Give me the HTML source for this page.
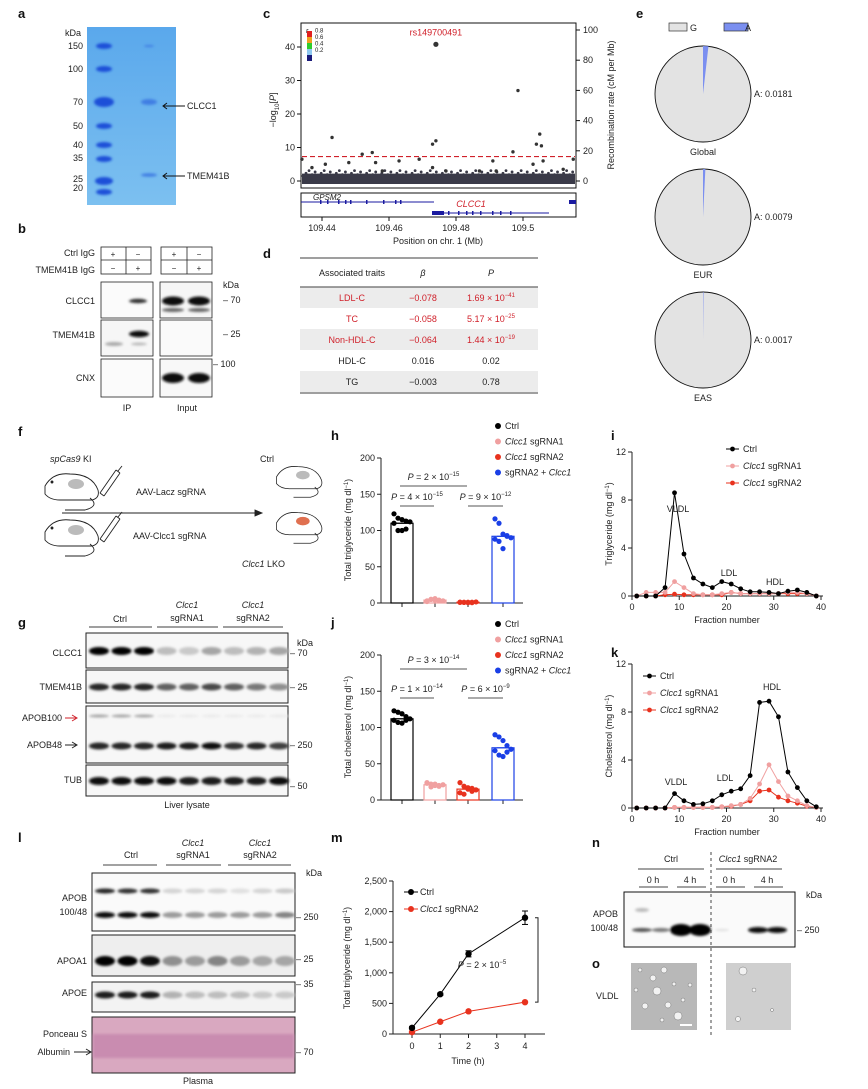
<!DOCTYPE html>
<html><head><meta charset="utf-8">
<style>
html,body{margin:0;padding:0;background:#fff;}
svg{display:block;font-family:"Liberation Sans",Arial,sans-serif;}
.t{font-size:9px;fill:#222;}
.s{font-size:8px;fill:#222;}
.L{font-size:13px;font-weight:bold;fill:#111;}
</style></head>
<body>
<svg id="fig" width="868" height="1089" viewBox="0 0 868 1089" xmlns="http://www.w3.org/2000/svg">
<defs>
<filter id="bl" x="-20%" y="-100%" width="140%" height="300%"><feGaussianBlur stdDeviation="1.2"/></filter>
<linearGradient id="gelg" x1="0" x2="0" y1="0" y2="1"><stop offset="0" stop-color="#5aa8ec"/><stop offset="1" stop-color="#7cc0f0"/></linearGradient>
</defs>

<!-- panel letters -->
<g>
<text class="L" x="18" y="18">a</text><text class="L" x="263" y="18">c</text><text class="L" x="636" y="18">e</text>
<text class="L" x="18" y="233">b</text><text class="L" x="263" y="258">d</text>
<text class="L" x="18" y="436">f</text><text class="L" x="331" y="440">h</text><text class="L" x="611" y="440">i</text>
<text class="L" x="18" y="627">g</text><text class="L" x="331" y="627">j</text><text class="L" x="611" y="657">k</text>
<text class="L" x="18" y="842">l</text><text class="L" x="331" y="842">m</text><text class="L" x="592" y="847">n</text><text class="L" x="592" y="968">o</text>
</g>

<!-- panel a gel -->
<g>
<rect x="87" y="27" width="89" height="178" fill="url(#gelg)"/>
<g fill="#1a4fd8" filter="url(#bl)">
<ellipse cx="104" cy="46" rx="8" ry="3"/><ellipse cx="104" cy="69" rx="8" ry="3"/><ellipse cx="104" cy="102" rx="10" ry="5"/>
<ellipse cx="104" cy="126" rx="8" ry="3"/><ellipse cx="104" cy="145" rx="8" ry="3"/><ellipse cx="104" cy="159" rx="8" ry="3"/>
<ellipse cx="104" cy="181" rx="9" ry="4"/><ellipse cx="104" cy="192" rx="8" ry="3"/>
</g>
<g fill="#3f7ee3" filter="url(#bl)"><ellipse cx="149" cy="102" rx="8" ry="3"/><ellipse cx="149" cy="175" rx="8" ry="1.8"/><ellipse cx="149" cy="46" rx="5" ry="1"/></g>
<text class="t" x="65" y="36">kDa</text>
<g class="t" text-anchor="end"><text x="83" y="49">150</text><text x="83" y="72">100</text><text x="83" y="105">70</text><text x="83" y="129">50</text><text x="83" y="148">40</text><text x="83" y="161">35</text><text x="83" y="182">25</text><text x="83" y="191">20</text></g>
<path d="M185,106 H163 M167,103 L163,106 L167,109 M185,176 H163 M167,173 L163,176 L167,179" stroke="#111" fill="none"/>
<text class="t" x="187" y="109">CLCC1</text><text class="t" x="187" y="179">TMEM41B</text>
</g>

<!-- panel b -->
<g>
<text class="t" x="95" y="256" text-anchor="end">Ctrl IgG</text><text class="t" x="95" y="273" text-anchor="end">TMEM41B IgG</text>
<g fill="none" stroke="#222" stroke-width="0.8">
<rect x="101" y="247" width="50" height="27"/><line x1="101" y1="260" x2="151" y2="260"/><line x1="126" y1="247" x2="126" y2="274"/>
<rect x="161" y="247" width="51" height="27"/><line x1="161" y1="260" x2="212" y2="260"/><line x1="187" y1="247" x2="187" y2="274"/>
<rect x="101" y="282" width="52" height="36" fill="#fbfbfb"/><rect x="160" y="282" width="52" height="36" fill="#f6f6f6"/>
<rect x="101" y="320" width="52" height="36" fill="#f6f6f6"/><rect x="160" y="320" width="52" height="36" fill="#fafafa"/>
<rect x="101" y="359" width="52" height="38" fill="#fbfbfb"/><rect x="160" y="359" width="52" height="38" fill="#f8f8f8"/>
</g>
<g class="s" text-anchor="middle"><text x="113" y="257">+</text><text x="138" y="257">−</text><text x="113" y="271">−</text><text x="138" y="271">+</text>
<text x="174" y="257">+</text><text x="199" y="257">−</text><text x="174" y="271">−</text><text x="199" y="271">+</text></g>
<g filter="url(#bl)">
<ellipse cx="138" cy="301" rx="9" ry="2.2" fill="#333"/><ellipse cx="173" cy="301" rx="11" ry="4.5" fill="#111"/><ellipse cx="199" cy="301" rx="11" ry="4.5" fill="#111"/>
<ellipse cx="173" cy="310" rx="11" ry="2" fill="#666"/><ellipse cx="199" cy="310" rx="11" ry="2" fill="#666"/>
<ellipse cx="139" cy="334" rx="10" ry="3.2" fill="#111"/><ellipse cx="114" cy="344" rx="9" ry="2" fill="#aaa"/><ellipse cx="139" cy="344" rx="8" ry="1.5" fill="#bbb"/>
<ellipse cx="173" cy="378" rx="11" ry="5" fill="#111"/><ellipse cx="199" cy="378" rx="11" ry="5" fill="#111"/>
</g>
<text class="t" x="95" y="304" text-anchor="end">CLCC1</text><text class="t" x="95" y="338" text-anchor="end">TMEM41B</text><text class="t" x="95" y="381" text-anchor="end">CNX</text>
<text class="t" x="223" y="288">kDa</text><text class="t" x="223" y="303">– 70</text><text class="t" x="223" y="337">– 25</text><text class="t" x="213" y="367">– 100</text>
<text class="t" x="127" y="411" text-anchor="middle">IP</text><text class="t" x="187" y="411" text-anchor="middle">Input</text>
</g>

<!-- panel c (static frame; points by JS) -->
<g id="pc"></g>

<!-- panel d table -->
<g>
<rect x="300" y="287" width="238" height="21" fill="#ececec"/><rect x="300" y="329" width="238" height="21" fill="#ececec"/><rect x="300" y="371" width="238" height="21" fill="#ececec"/>
<line x1="300" y1="258" x2="538" y2="258" stroke="#666" stroke-width="1.2"/><line x1="300" y1="287" x2="538" y2="287" stroke="#666" stroke-width="1.2"/><line x1="300" y1="393" x2="538" y2="393" stroke="#666" stroke-width="1.2"/>
<g class="t" text-anchor="middle">
<text x="352" y="276">Associated traits</text><text x="423" y="276" font-style="italic">β</text><text x="491" y="276" font-style="italic">P</text>
<g fill="#d0202a"><text x="352" y="301" fill="#d0202a">LDL-C</text><text x="423" y="301" fill="#d0202a">−0.078</text><text x="491" y="301" fill="#d0202a">1.69 × 10<tspan dy="-4" font-size="6">−41</tspan></text>
<text x="352" y="322" fill="#d0202a">TC</text><text x="423" y="322" fill="#d0202a">−0.058</text><text x="491" y="322" fill="#d0202a">5.17 × 10<tspan dy="-4" font-size="6">−25</tspan></text>
<text x="352" y="343" fill="#d0202a">Non-HDL-C</text><text x="423" y="343" fill="#d0202a">−0.064</text><text x="491" y="343" fill="#d0202a">1.44 × 10<tspan dy="-4" font-size="6">−19</tspan></text></g>
<text x="352" y="364">HDL-C</text><text x="423" y="364">0.016</text><text x="491" y="364">0.02</text>
<text x="352" y="385">TG</text><text x="423" y="385">−0.003</text><text x="491" y="385">0.78</text>
</g></g>

<!-- panel e pies -->
<g id="pe">
<rect x="669" y="23" width="18" height="8" fill="#e3e3e3" stroke="#333" stroke-width="0.7"/><text class="t" x="690" y="31">G</text>
<rect x="724" y="23" width="24" height="8" fill="#7b8ff0" stroke="#333" stroke-width="0.7"/><text class="t" x="745" y="31">A</text>
</g>

<!-- panel f schematic -->
<g fill="none" stroke="#222" stroke-width="0.9">
<g id="mouse1"><path d="M45,486 q8,-14 25,-12 q22,0 28,16 q2,8 -6,10 h-32 q-10,0 -15,-6 z" fill="#fff"/><path d="M90,498 q10,8 -5,12 h-20" /><ellipse cx="76" cy="484" rx="8" ry="5" fill="#bbb" stroke="none"/><circle cx="52" cy="482" r="1" fill="#222"/></g>
<use href="#mouse1" transform="translate(0,46)"/>
<g transform="translate(200,0) scale(0.85) translate(45,75)"><path d="M45,486 q8,-14 25,-12 q22,0 28,16 q2,8 -6,10 h-32 q-10,0 -15,-6 z" fill="#fff"/><path d="M90,498 q10,8 -5,12 h-20"/><ellipse cx="76" cy="484" rx="8" ry="5" fill="#bbb" stroke="none"/></g>
<g transform="translate(200,46) scale(0.85) translate(45,75)"><path d="M45,486 q8,-14 25,-12 q22,0 28,16 q2,8 -6,10 h-32 q-10,0 -15,-6 z" fill="#fff"/><path d="M90,498 q10,8 -5,12 h-20"/><ellipse cx="76" cy="484" rx="8" ry="5" fill="#e07050" stroke="none"/></g>
<path d="M100,493 L116,470 M104,496 L120,473 M100,493 L104,496 M116,470 L120,473 M118,471 L122,466"/>
<path d="M100,539 L116,516 M104,542 L120,519 M100,539 L104,542 M116,516 L120,519 M118,517 L122,512"/>
<line x1="62" y1="513" x2="260" y2="513"/><path d="M255,510 L262,513 L255,516 z" fill="#222"/>
<g stroke="none" fill="#222" font-size="9px"><text x="50" y="462" font-style="italic">spCas9<tspan font-style="normal"> KI</tspan></text><text x="260" y="462">Ctrl</text>
<text x="136" y="495">AAV-Lacz sgRNA</text><text x="133" y="539">AAV-Clcc1 sgRNA</text><text x="242" y="567" font-style="italic">Clcc1<tspan font-style="normal"> LKO</tspan></text></g>
</g>

<!-- panel g blot -->
<g id="pg">
<g class="t" text-anchor="middle"><text x="120" y="622">Ctrl</text><text x="187" y="608" font-style="italic">Clcc1</text><text x="187" y="621">sgRNA1</text><text x="253" y="608" font-style="italic">Clcc1</text><text x="253" y="621">sgRNA2</text></g>
<path d="M89,627 H152 M157,627 H218 M223,627 H283" stroke="#666" stroke-width="1.2"/>
<g fill="#f7f7f7" stroke="#222" stroke-width="1"><rect x="86" y="633" width="202" height="35"/><rect x="86" y="670" width="202" height="33"/><rect x="86" y="706" width="202" height="57"/><rect x="86" y="765" width="202" height="31"/></g>
<g class="t" text-anchor="end"><text x="82" y="656">CLCC1</text><text x="82" y="690">TMEM41B</text><text x="62" y="721">APOB100</text><text x="62" y="748">APOB48</text><text x="82" y="783">TUB</text></g>
<path d="M65,718 H76 M72,715 L77,718 L72,721" stroke="#d0202a" fill="none"/><path d="M65,745 H76 M72,742 L77,745 L72,748" stroke="#222" fill="none"/>
<g class="t"><text x="297" y="646">kDa</text><text x="290" y="656">– 70</text><text x="290" y="690">– 25</text><text x="290" y="748">– 250</text><text x="290" y="789">– 50</text></g>
<text class="t" x="187" y="808" text-anchor="middle">Liver lysate</text>
</g>

<!-- panel l blot -->
<g id="pl">
<g class="t" text-anchor="middle"><text x="131" y="858">Ctrl</text><text x="193" y="846" font-style="italic">Clcc1</text><text x="193" y="858">sgRNA1</text><text x="260" y="846" font-style="italic">Clcc1</text><text x="260" y="858">sgRNA2</text></g>
<path d="M103,865 H157 M166,865 H221 M228,865 H291" stroke="#444" stroke-width="1"/>
<g stroke="#222" stroke-width="1"><rect x="92" y="873" width="203" height="58" fill="#fafafa"/><rect x="92" y="935" width="203" height="41" fill="#eeeeee"/><rect x="92" y="982" width="203" height="30" fill="#f3f3f3"/><rect x="92" y="1017" width="203" height="56" fill="#d9a8c0"/></g>
<rect x="93" y="1034" width="201" height="24" fill="#c98cb0" filter="url(#bl)"/>
<g class="t" text-anchor="end"><text x="87" y="901">APOB</text><text x="87" y="915">100/48</text><text x="87" y="964">APOA1</text><text x="87" y="996">APOE</text><text x="87" y="1037">Ponceau S</text><text x="70" y="1055">Albumin</text></g>
<path d="M74,1052 H90 M86,1049 L91,1052 L86,1055" stroke="#222" fill="none"/>
<g class="t"><text x="306" y="876">kDa</text><text x="296" y="920">– 250</text><text x="296" y="962">– 25</text><text x="296" y="987">– 35</text><text x="296" y="1055">– 70</text></g>
<text class="t" x="198" y="1084" text-anchor="middle">Plasma</text>
</g>

<!-- panel n / o -->
<g>
<g class="t" text-anchor="middle"><text x="671" y="862">Ctrl</text><text x="748" y="862"><tspan font-style="italic">Clcc1</tspan> sgRNA2</text>
<text x="653" y="883">0 h</text><text x="690" y="883">4 h</text><text x="729" y="883">0 h</text><text x="767" y="883">4 h</text></g>
<path d="M638,869 H704 M716,869 H782 M639,887 H668 M677,887 H706 M716,887 H745 M754,887 H783" stroke="#444"/>
<rect x="624" y="892" width="171" height="55" fill="#fafafa" stroke="#111" stroke-width="1"/>
<g filter="url(#bl)"><ellipse cx="642" cy="930" rx="10" ry="2" fill="#555"/><ellipse cx="661" cy="930" rx="9" ry="2" fill="#777"/><ellipse cx="642" cy="910" rx="7" ry="2" fill="#bbb"/>
<ellipse cx="681" cy="930" rx="11" ry="6" fill="#000"/><ellipse cx="700" cy="930" rx="11" ry="6" fill="#000"/>
<ellipse cx="758" cy="930" rx="10" ry="3" fill="#111"/><ellipse cx="777" cy="930" rx="10" ry="3" fill="#111"/><ellipse cx="722" cy="930" rx="7" ry="1" fill="#ddd"/></g>
<text class="t" x="618" y="917" text-anchor="end">APOB</text><text class="t" x="618" y="931" text-anchor="end">100/48</text>
<text class="t" x="806" y="898">kDa</text><text class="t" x="797" y="933">– 250</text>
<line x1="711" y1="852" x2="711" y2="1036" stroke="#444" stroke-dasharray="3,3"/>
</g>
<g>
<rect x="631" y="963" width="66" height="67" fill="#b8b8b8"/><rect x="726" y="963" width="65" height="67" fill="#cfcfcf"/>
<g fill="#f2f2f2" stroke="#777" stroke-width="0.5"><circle cx="640" cy="970" r="2"/><circle cx="653" cy="978" r="3"/><circle cx="664" cy="970" r="3"/><circle cx="657" cy="991" r="4"/><circle cx="674" cy="984" r="2"/><circle cx="645" cy="1006" r="3"/><circle cx="668" cy="1005" r="3"/><circle cx="678" cy="1016" r="4"/><circle cx="690" cy="985" r="2"/><circle cx="636" cy="990" r="2"/><circle cx="683" cy="1000" r="2"/><circle cx="662" cy="1020" r="2"/>
<circle cx="743" cy="971" r="4"/><circle cx="738" cy="1019" r="2.5"/><circle cx="754" cy="990" r="2"/><circle cx="772" cy="1010" r="1.5"/></g>
<rect x="680" y="1024" width="12" height="2" fill="#fff"/>
<text class="t" x="596" y="999">VLDL</text>
</g>

<g id="ph"></g>
<g id="pj"></g>
<g id="pi"></g>
<g id="pk"></g>
<g id="pm"></g>
</svg>

<script>
// ===== data =====
const cPosMb=[109.434,109.437,109.441,109.443,109.448,109.452,109.456,109.455,109.458,109.463,109.469,109.473,109.473,109.474,109.474,109.477,109.487,109.491,109.492,109.497,109.4985,109.503,109.504,109.505,109.5055,109.506,109.512,109.515];
const cLogP=[6.5,4,5,13,5.5,8,5.5,8.5,3,6,6.5,4,11,12,40.8,3,3,6,3,8.7,27,5,11,14,10.5,6,3.5,6.5];
const cYTicks=[0,10,20,30,40];
const cRTicks=[0,20,40,60,80,100];
const cXTicks=[109.44,109.46,109.48,109.5];
const cThreshold=7.3;

const pieGroups=["Global","EUR","EAS"];
const pieA=[0.0181,0.0079,0.0017];

const barCats=["Ctrl","Clcc1 sgRNA1","Clcc1 sgRNA2","sgRNA2 + Clcc1"];
const barColors=["#000","#f0a0a0","#e8321e","#1a3fe6"];
const hMeans=[110,4,1,92];
const hPoints=[[123,117,115,113,112,110,100,100,102],[3,5,6,4,3,2,5,4,3],[1,1,0.5,1,1.5,1,0.8,1,0.5],[116,110,95,92,90,88,85,75,93]];
const jMeans=[112,21,15,72];
const jPoints=[[123,121,119,115,112,110,107,106,110],[24,22,20,19,21,23,18,22,20],[24,19,15,12,14,10,8,17,16],[90,87,82,75,70,68,62,60,66]];
const barTicks=[0,50,100,150,200];

const fracX=[1,3,5,7,9,11,13,15,17,19,21,23,25,27,29,31,33,35,37,39];
const iCtrl=[0,0,0,0.7,8.6,3.5,1.5,1.0,0.7,1.2,1.0,0.6,0.35,0.35,0.3,0.2,0.4,0.5,0.3,0];
const iSg1=[0,0.3,0.3,0.3,1.2,0.7,0.2,0.1,0.1,0.2,0.3,0.2,0.2,0.2,0.2,0.2,0.3,0.3,0.2,0];
const iSg2=[0,0,0,0.1,0.15,0.1,0.1,0.1,0.1,0.1,0.3,0.2,0.2,0.2,0.2,0.2,0.2,0.2,0.2,0];
const kCtrl=[0,0,0,0,1.2,0.6,0.3,0.35,0.6,1.1,1.4,1.6,2.7,8.8,8.9,7.6,3.0,1.7,0.6,0.1];
const kSg1=[0,0,0,0,0.05,0.05,0.05,0.05,0.05,0.1,0.2,0.3,0.8,2.0,3.6,2.2,1.0,0.6,0.2,0.05];
const kSg2=[0,0,0,0,0.05,0.05,0.05,0.05,0.05,0.1,0.15,0.3,0.6,1.4,1.5,0.9,0.6,0.4,0.15,0.05];
const fplcYTicks=[0,4,8,12];
const fplcXTicks=[0,10,20,30,40];

const mTime=[0,1,2,4];
const mCtrl=[100,650,1310,1900];
const mCtrlErr=[20,20,50,110];
const mSg2=[30,200,370,520];
const mYTicks=[0,500,1000,1500,2000,2500];
const mYLabels=["0","500","1,000","1,500","2,000","2,500"];
const mXTicks=[0,1,2,3,4];

// ===== helpers =====
const NS="http://www.w3.org/2000/svg";
function mk(tag,parent,attrs){const e=document.createElementNS(NS,tag);for(const k in attrs)e.setAttribute(k,attrs[k]);parent.appendChild(e);return e;}
function txt(parent,x,y,s,extra){const e=mk("text",parent,Object.assign({x:x,y:y,"font-size":"9px",fill:"#222"},extra||{}));e.textContent=s;return e;}
function lin(d0,d1,r0,r1){return v=>r0+(v-d0)*(r1-r0)/(d1-d0);}

// ===== panel c =====
(function(){
const g=document.getElementById("pc");
const x=lin(109.44,109.5,322,523), y=lin(0,40,181,47), yr=lin(0,100,181,30);
const fr=mk("rect",g,{x:301,y:23,width:275,height:165,fill:"none",stroke:"#111","stroke-width":1});

cYTicks.forEach(t=>{mk("line",g,{x1:297,x2:301,y1:y(t),y2:y(t),stroke:"#111"});txt(g,295,y(t)+3,t,{"text-anchor":"end"});});
cRTicks.forEach(t=>{mk("line",g,{x1:576,x2:580,y1:yr(t),y2:yr(t),stroke:"#111"});txt(g,583,yr(t)+3,t);});
const rl=txt(g,0,0,"Recombination rate (cM per Mb)",{transform:"translate(614,105) rotate(-90)","text-anchor":"middle"});

const yl=txt(g,0,0,"−log",{transform:"translate(276,110) rotate(-90)","text-anchor":"middle"});yl.innerHTML="−log<tspan font-size='6' dy='3'>10</tspan><tspan dy='-3'>[</tspan><tspan font-style='italic'>P</tspan>]";

mk("rect",g,{x:302,y:y(2.2),width:273,height:y(0)-y(2.2)+3,fill:"#3a3a48"});
for(let i=0;i<90;i++){const xx=303+i*3.03;mk("circle",g,{cx:xx,cy:y(1.5+((i*7)%5)*0.4),r:1.4,fill:"#3a3a48"});}
mk("line",g,{x1:302,x2:575,y1:y(cThreshold),y2:y(cThreshold),stroke:"#d0202a","stroke-dasharray":"5,3","stroke-width":1.2});
cPosMb.forEach((p,i)=>{const c=mk("circle",g,{cx:x(p),cy:y(cLogP[i]),r:cLogP[i]>40?2.6:1.7,fill:"#333"});
});
txt(g,x(109.474),y(40.8)-9,"rs149700491",{fill:"#d0202a","text-anchor":"middle","font-size":"9px"});
const cols=["#1a1a7a","#8ec8f0","#2ecc2e","#f0a020","#e02020"];
cols.forEach((c,i)=>mk("rect",g,{x:307,y:61-i*6-6,width:5,height:6,fill:c}));
txt(g,306,33,"r",{"font-style":"italic","font-size":"7px"});
["0.2","0.4","0.6","0.8"].forEach((s,i)=>txt(g,315,52-i*6.5,s,{"font-size":"6px"}));
mk("rect",g,{x:301,y:193,width:275,height:24,fill:"none",stroke:"#111"});
mk("line",g,{x1:301,x2:434,y1:202,y2:202,stroke:"#1a1aa0"});
mk("line",g,{x1:432,x2:549,y1:213,y2:213,stroke:"#1a1aa0"});
mk("rect",g,{x:432,y:211,width:12,height:4,fill:"#1a1aa0"});mk("rect",g,{x:569,y:200,width:7,height:4,fill:"#1a1aa0"});
[320,327,338,345,350,366,383,395,400,432,448,458,466,472,480,492,500,510].forEach((xx,i)=>mk("rect",g,{x:xx,y:i<9?200:211,width:1.5,height:4,fill:"#1a1aa0"}));
txt(g,313,200,"GPSM2",{"font-style":"italic","font-size":"8px"});
txt(g,471,207,"CLCC1",{"font-style":"italic",fill:"#d0202a","font-size":"9px","text-anchor":"middle"});
cXTicks.forEach(t=>{mk("line",g,{x1:x(t),x2:x(t),y1:217,y2:221,stroke:"#111"});txt(g,x(t),231,t,{"text-anchor":"middle"});});
txt(g,438,244,"Position on chr. 1 (Mb)",{"text-anchor":"middle"});
})();

// ===== panel e =====
(function(){
const g=document.getElementById("pe");
pieGroups.forEach((name,i)=>{
  const cx=703,cy=94+i*123,r=48;
  const c=mk("circle",g,{cx:cx,cy:cy,r:r,fill:"#e3e3e3",stroke:"#111","stroke-width":0.9});
  
  const a=pieA[i]*2*Math.PI;
  const p=mk("path",g,{d:`M${cx},${cy} L${cx},${cy-r} A${r},${r} 0 0 1 ${cx+r*Math.sin(a)},${cy-r*Math.cos(a)} Z`,fill:"#7b8ff0"});
  
  txt(g,cx+r+3,cy+3,"A: "+pieA[i].toFixed(4));
  txt(g,cx,cy+r+13,name,{"text-anchor":"middle"});
});
})();

// ===== bar panels =====
function barPanel(id,top,means,pts,ytitle,legY,pAnn){
const g=document.getElementById(id);
const y=lin(0,200,top+145,top), xs=[402,435,468,503];
mk("line",g,{x1:381,x2:381,y1:top,y2:top+145,stroke:"#222"});
mk("line",g,{x1:381,x2:523,y1:top+145,y2:top+145,stroke:"#222"});
barTicks.forEach(t=>{mk("line",g,{x1:377,x2:381,y1:y(t),y2:y(t),stroke:"#222"});txt(g,375,y(t)+3,t,{"text-anchor":"end"});});
xs.forEach(x=>mk("line",g,{x1:x,x2:x,y1:top+145,y2:top+149,stroke:"#222"}));
const t=txt(g,0,0,"",{transform:`translate(351,${top+72}) rotate(-90)`,"text-anchor":"middle"});t.innerHTML=ytitle+" (mg dl<tspan dy='-3' font-size='6'>−1</tspan><tspan dy='3'>)</tspan>";

means.forEach((m,i)=>{
 const b=mk("rect",g,{x:xs[i]-11,y:y(m),width:22,height:y(0)-y(m),fill:"none",stroke:barColors[i],"stroke-width":1.2});
 
 pts[i].forEach((v,k)=>{const c=mk("circle",g,{cx:xs[i]-8+(k%5)*4,cy:y(v),r:2.6,fill:barColors[i]});
  });
 mk("line",g,{x1:xs[i]-6,x2:xs[i]+6,y1:y(m),y2:y(m),stroke:barColors[i]});
});
barCats.forEach((c,i)=>{mk("circle",g,{cx:498,cy:legY+i*15.5-3,r:3,fill:barColors[i]});
 const l=txt(g,505,legY+i*15.5,"");
 l.innerHTML=c.replace("Clcc1","<tspan font-style='italic'>Clcc1</tspan>");
 });
pAnn.forEach(a=>{mk("line",g,{x1:a[0],x2:a[1],y1:a[2],y2:a[2],stroke:"#555"});
 const p=txt(g,(a[0]+a[1])/2,a[2]-6,"",{"text-anchor":"middle"});p.innerHTML="<tspan font-style='italic'>P</tspan> = "+a[3]+" × 10<tspan dy='-4' font-size='6'>"+a[4]+"</tspan>";});
}
barPanel("ph",458,hMeans,hPoints,"Total triglyceride",429,[[400,467,486,"2","−15"],[400,434,506,"4","−15"],[468,503,506,"9","−12"]]);
barPanel("pj",655,jMeans,jPoints,"Total cholesterol",627,[[400,467,669,"3","−14"],[400,434,698,"1","−14"],[468,503,698,"6","−9"]]);

// ===== FPLC panels =====
function fplc(id,top,s0,s1,s2,title,legX,legY,ann){
const g=document.getElementById(id);
const y=lin(0,12,top+144,top), x=lin(0,40,632,821);
mk("line",g,{x1:632,x2:632,y1:top,y2:top+144,stroke:"#222"});
mk("line",g,{x1:632,x2:823,y1:top+144,y2:top+144,stroke:"#222"});
fplcYTicks.forEach(t=>{mk("line",g,{x1:628,x2:632,y1:y(t),y2:y(t),stroke:"#222"});txt(g,626,y(t)+3,t,{"text-anchor":"end"});});
fplcXTicks.forEach(t=>{mk("line",g,{x1:x(t),x2:x(t),y1:top+144,y2:top+148,stroke:"#222"});txt(g,x(t),top+158,t,{"text-anchor":"middle"});});
txt(g,727,top+171,"Fraction number",{"text-anchor":"middle"});
const t=txt(g,0,0,"",{transform:`translate(612,${top+72}) rotate(-90)`,"text-anchor":"middle"});t.innerHTML=title+" (mg dl<tspan dy='-3' font-size='6'>−1</tspan><tspan dy='3'>)</tspan>";
const ser=[[s2,"#e8321e","Clcc1 sgRNA2"],[s1,"#f0a0a0","Clcc1 sgRNA1"],[s0,"#000","Ctrl"]];
ser.forEach(([d,c])=>{
 mk("polyline",g,{points:d.map((v,i)=>x(fracX[i])+","+y(v)).join(" "),fill:"none",stroke:c,"stroke-width":1});
 d.forEach((v,i)=>{const p=mk("circle",g,{cx:x(fracX[i]),cy:y(v),r:2.4,fill:c});
  });
});
ser.slice().reverse().forEach(([d,c,n],i)=>{const yy=legY+i*17;
 mk("line",g,{x1:legX,x2:legX+13,y1:yy-3,y2:yy-3,stroke:c});mk("circle",g,{cx:legX+6.5,cy:yy-3,r:2.4,fill:c});
 const l=txt(g,legX+17,yy,"");l.innerHTML=n.replace("Clcc1","<tspan font-style='italic'>Clcc1</tspan>");
 });
ann.forEach(a=>txt(g,a[1],a[2],a[0],{"text-anchor":"middle"}));
}
fplc("pi",452,iCtrl,iSg1,iSg2,"Triglyceride",726,452,[["VLDL",678,512],["LDL",729,576],["HDL",775,585]]);
fplc("pk",664,kCtrl,kSg1,kSg2,"Cholesterol",643,679,[["VLDL",676,785],["LDL",725,781],["HDL",772,690]]);

// ===== panel m =====
(function(){
const g=document.getElementById("pm");
const y=lin(0,2500,1034,881), x=lin(0,4,412,525);
mk("line",g,{x1:393,x2:393,y1:881,y2:1034,stroke:"#222"});
mk("line",g,{x1:393,x2:545,y1:1034,y2:1034,stroke:"#222"});
mYTicks.forEach((t,i)=>{mk("line",g,{x1:389,x2:393,y1:y(t),y2:y(t),stroke:"#222"});txt(g,387,y(t)+3,mYLabels[i],{"text-anchor":"end"});});
mXTicks.forEach(t=>{mk("line",g,{x1:x(t),x2:x(t),y1:1034,y2:1038,stroke:"#222"});txt(g,x(t),1049,t,{"text-anchor":"middle"});});
txt(g,468,1064,"Time (h)",{"text-anchor":"middle"});
const t=txt(g,0,0,"",{transform:"translate(350,958) rotate(-90)","text-anchor":"middle"});t.innerHTML="Total triglyceride (mg dl<tspan dy='-3' font-size='6'>−1</tspan><tspan dy='3'>)</tspan>";
[[mSg2,"#e8321e"],[mCtrl,"#000"]].forEach(([d,c])=>{
 mk("polyline",g,{points:d.map((v,i)=>x(mTime[i])+","+y(v)).join(" "),fill:"none",stroke:c});
 d.forEach((v,i)=>{const p=mk("circle",g,{cx:x(mTime[i]),cy:y(v),r:3.2,fill:c});
  });});
mCtrl.forEach((v,i)=>{mk("line",g,{x1:x(mTime[i]),x2:x(mTime[i]),y1:y(v+mCtrlErr[i]),y2:y(v-mCtrlErr[i]),stroke:"#000"});
 mk("line",g,{x1:x(mTime[i])-3,x2:x(mTime[i])+3,y1:y(v+mCtrlErr[i]),y2:y(v+mCtrlErr[i]),stroke:"#000"});mk("line",g,{x1:x(mTime[i])-3,x2:x(mTime[i])+3,y1:y(v-mCtrlErr[i]),y2:y(v-mCtrlErr[i]),stroke:"#000"});});
mk("path",g,{d:`M535,${y(mCtrl[3])} H538 V${y(mSg2[3])} H535`,fill:"none",stroke:"#222"});
const p=txt(g,482,968,"",{"text-anchor":"middle"});p.innerHTML="<tspan font-style='italic'>P</tspan> = 2 × 10<tspan dy='-4' font-size='6'>−5</tspan>";
[["Ctrl","#000",895],["Clcc1 sgRNA2","#e8321e",912]].forEach(([n,c,yy])=>{mk("line",g,{x1:404,x2:418,y1:yy-3,y2:yy-3,stroke:c});mk("circle",g,{cx:411,cy:yy-3,r:3,fill:c});
 const l=txt(g,420,yy,"");l.innerHTML=n.replace("Clcc1","<tspan font-style='italic'>Clcc1</tspan>");
 });
})();

// ===== blot bands =====
function bands(id,x0,step,rows){
const g=document.getElementById(id);
const bg=mk("g",g,{filter:"url(#bl)"});
rows.forEach(([yy,h,inten])=>inten.forEach((v,i)=>{
 const shade=Math.round(235-v*230);
 mk("ellipse",bg,{cx:x0+i*step,cy:yy,rx:10,ry:h,fill:`rgb(${shade},${shade},${shade})`});}));
}
bands("pg",99,22.5,[[651,4,[1,1,1,.2,.15,.3,.2,.25,.3]],[687,3.5,[.85,.85,.85,.6,.6,.7,.6,.5,.4]],[716,1.5,[.3,.3,.3,0,0,0,0,0,0]],[746,3.5,[.85,.85,.85,.9,.9,.95,.8,.85,.75]],[781,4,[.95,.95,.95,.95,.9,.9,.9,.9,.95]]]);
bands("pl",105,22.5,[[891,2.5,[.85,.8,.8,.1,.1,.1,.05,.1,.15]],[915,3,[.95,.95,.95,.35,.35,.35,.35,.35,.45]],[961,5,[1,1,.95,.4,.35,.45,.35,.3,.3]],[995,3.5,[.9,.9,.9,.25,.2,.2,.2,.15,.15]]]);
</script>
</body></html>
